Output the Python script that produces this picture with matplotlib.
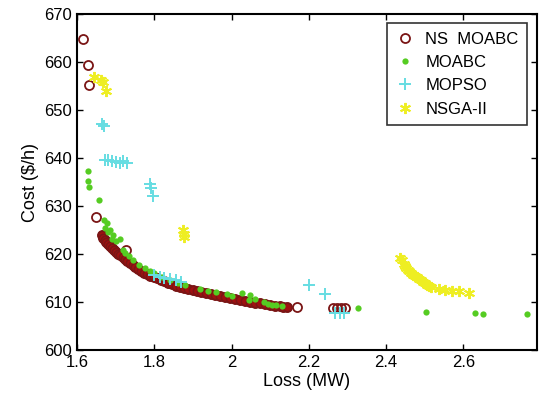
import matplotlib.pyplot as plt
from matplotlib.ticker import FormatStrFormatter, MultipleLocator

plt.rcParams['font.family'] = ['Liberation Sans', 'DejaVu Sans']

# NS MOABC: dense front plus a few outlying solutions
ns_x = [1.664, 1.668, 1.672, 1.676, 1.680, 1.685, 1.690, 1.695, 1.700, 1.706,
        1.712, 1.718, 1.724, 1.730, 1.737, 1.744, 1.751, 1.758, 1.766, 1.774,
        1.782, 1.790, 1.799, 1.808, 1.817, 1.826, 1.836, 1.846, 1.856, 1.866,
        1.877, 1.888, 1.899, 1.910, 1.922, 1.934, 1.946, 1.958, 1.970, 1.983,
        1.996, 2.009, 2.022, 2.035, 2.048, 2.061, 2.074, 2.087, 2.100, 2.112,
        2.124, 2.134, 2.143,
        1.615, 1.627, 1.630, 1.648, 1.727, 2.169, 2.262, 2.272, 2.283, 2.293]
ns_y = [624.0, 623.4, 622.9, 622.5, 622.1, 621.7, 621.3, 620.9, 620.5, 620.1,
        619.7, 619.3, 618.9, 618.5, 618.1, 617.7, 617.3, 616.9, 616.5, 616.1,
        615.8, 615.5, 615.2, 614.9, 614.6, 614.3, 614.0, 613.7, 613.4, 613.1,
        612.9, 612.6, 612.4, 612.2, 612.0, 611.8, 611.6, 611.4, 611.2, 611.0,
        610.8, 610.6, 610.4, 610.2, 610.0, 609.8, 609.7, 609.5, 609.4, 609.2,
        609.1, 609.0, 608.9,
        664.9, 659.5, 655.2, 627.8, 620.8, 609.0, 608.7, 608.7, 608.7, 608.7]

# MOABC
moabc_x = [1.628, 1.628, 1.630, 1.658, 1.670, 1.673, 1.677, 1.680, 1.685, 1.690,
           1.694, 1.700, 1.711, 1.720, 1.725, 1.735, 1.746, 1.760, 1.775, 1.789,
           1.800, 1.820, 1.841, 1.860, 1.880, 1.919, 1.940, 1.960, 1.988, 2.000,
           2.027, 2.044, 2.048, 2.060, 2.083, 2.095, 2.104, 2.115, 2.130,
           2.326, 2.502, 2.629, 2.650, 2.765]
moabc_y = [637.3, 635.2, 634.0, 631.2, 627.0, 625.5, 626.4, 624.5, 625.0, 623.2,
           624.0, 622.8, 623.1, 620.8, 620.2, 619.5, 618.8, 617.8, 617.0, 616.5,
           616.0, 615.3, 614.6, 614.0, 613.5, 612.8, 612.3, 612.0, 611.7, 611.3,
           611.8, 610.4, 611.5, 610.6, 609.9, 609.5, 609.3, 609.3, 609.2,
           608.8, 608.0, 607.6, 607.4, 607.4]

# MOPSO
mopso_x = [1.664, 1.670, 1.672, 1.680, 1.690, 1.700, 1.710, 1.720, 1.730,
           1.789, 1.792, 1.797, 1.800, 1.815, 1.825, 1.840, 1.855, 1.870,
           2.199, 2.241, 2.268, 2.280, 2.292]
mopso_y = [647.0, 646.6, 639.6, 639.7, 639.4, 639.2, 639.0, 639.3, 639.0,
           634.5, 633.8, 632.0, 615.7, 615.2, 614.9, 614.8, 614.5, 614.2,
           613.5, 611.6, 607.8, 607.6, 607.7]

# NSGA-II
nsga_x = [1.645, 1.662, 1.668, 1.675, 1.875, 1.876, 1.878,
          2.437, 2.440, 2.445, 2.450, 2.452, 2.456, 2.460, 2.465, 2.470, 2.475,
          2.480, 2.485, 2.490, 2.495, 2.500, 2.505, 2.510, 2.515,
          2.536, 2.553, 2.571, 2.588, 2.614]
nsga_y = [656.9, 656.2, 655.8, 654.0, 625.0, 624.2, 623.6,
          619.1, 618.7, 618.0, 617.6, 617.0, 616.7, 616.4, 616.0, 615.7, 615.4,
          615.1, 614.8, 614.5, 614.2, 613.9, 613.6, 613.4, 613.2,
          612.7, 612.4, 612.2, 612.2, 611.8]

fig = plt.figure(figsize=(5.39, 4.05), dpi=100)
ax = fig.add_axes([0.143, 0.136, 0.853, 0.829])

ax.plot(ns_x, ns_y, 'o', ms=6.5, mfc='none', mec='#7a1515', mew=1.3,
        label='NS  MOABC')
ax.plot(ns_x[:53], ns_y[:53], 'o', ms=6, mfc='#a01010', mec='#7a1515',
        mew=1.1)
ax.plot(moabc_x, moabc_y, 'o', ms=4.5, color='#55cc22', mec='none',
        label='MOABC')
ax.plot(mopso_x, mopso_y, '+', ms=8, mew=1.4, color='#66dde2',
        label='MOPSO')
ax.plot(nsga_x, nsga_y, marker=(6, 2, 0), ls='none', ms=8, mew=1.4,
        color='#eeee22', label='NSGA-II')

ax.set_xlim(1.6, 2.79)
ax.set_ylim(600, 670)
ax.xaxis.set_major_locator(MultipleLocator(0.2))
ax.yaxis.set_major_locator(MultipleLocator(10))
ax.xaxis.set_major_formatter(FormatStrFormatter('%g'))
ax.tick_params(direction='in', top=True, right=True, length=4,
               labelsize=12, width=1)
for s in ax.spines.values():
    s.set_linewidth(1.5)

ax.set_xlabel('Loss (MW)', fontsize=13, labelpad=2)
ax.set_ylabel('Cost ($/h)', fontsize=13, labelpad=4)

leg = ax.legend(loc='upper right', fontsize=12, frameon=True, fancybox=False,
                edgecolor='black', handletextpad=0.6, borderpad=0.5,
                labelspacing=0.5, handlelength=1.2, numpoints=1,
                borderaxespad=0, bbox_to_anchor=(0.978, 0.973))
leg.get_frame().set_linewidth(1.2)

fig.savefig('out.png', dpi=100)
